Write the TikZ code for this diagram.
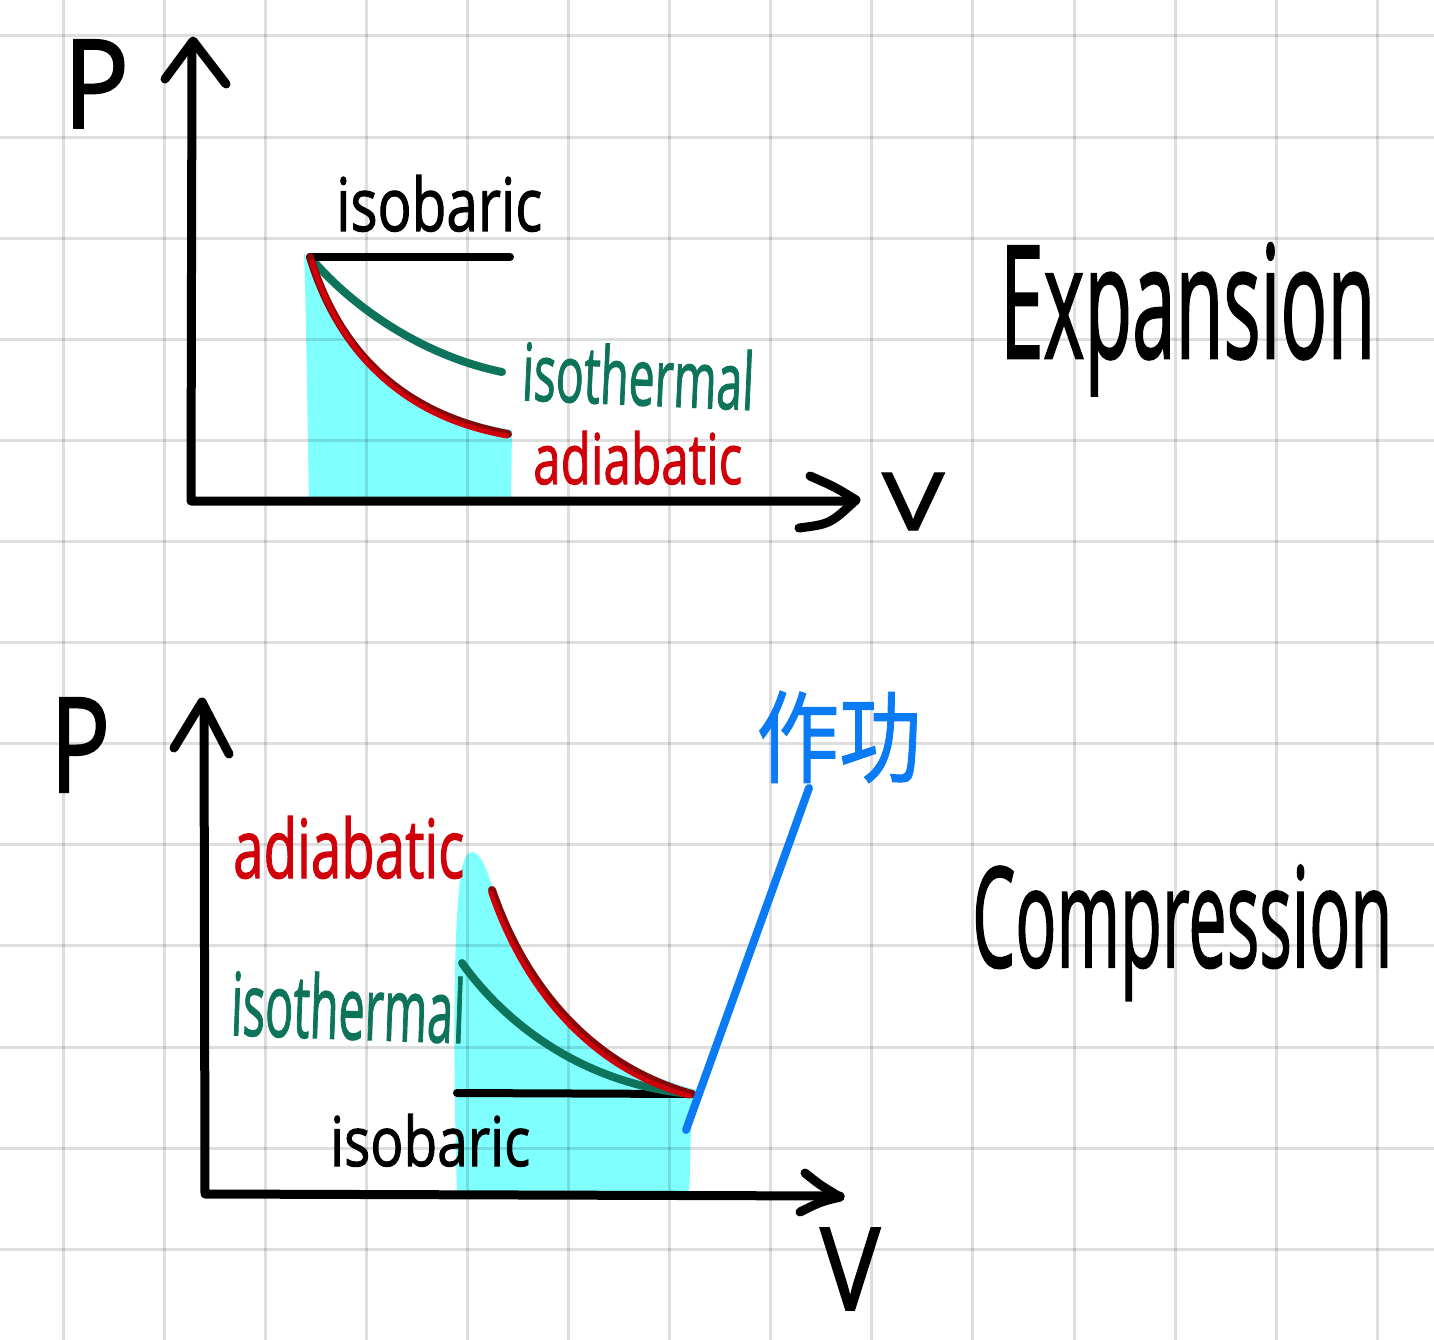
\documentclass[tikz,border=0pt]{standalone}
\usepackage{fontspec}
\usepackage{graphicx}
\setmainfont{Open Sans}
\newfontfamily\handfont{Open Sans}[FakeBold=1.6]
\newfontfamily\cjk{Noto Sans CJK SC}[FakeBold=1]
\definecolor{fillcyan}{RGB}{128,255,255}
\definecolor{isogreen}{RGB}{13,115,90}
\definecolor{adired}{RGB}{208,0,10}
\definecolor{adidark}{RGB}{135,8,8}
\definecolor{workblue}{RGB}{10,122,245}
\newcommand{\fitbox}[3]{\resizebox{#1pt}{#2pt}{#3}}
\begin{document}
\begin{tikzpicture}[x=1pt,y=-1pt,
  lbl/.style={inner sep=0pt, anchor=base west, font=\handfont},
  axisline/.style={line width=9pt, line cap=round, line join=round, draw=black},
  curveline/.style={line width=8pt, line cap=round},
  gridline/.style={line width=3pt, draw=black, opacity=0.13}]
\useasboundingbox[fill=white] (0,0) rectangle (1434,1340);

% ---------- cyan work areas ----------
\fill[fillcyan] (304,253) .. controls (306,300) and (307,400) .. (309,498) -- (511,498) -- (512,430)
  .. controls (405,412) and (338,352) .. (304,253) -- cycle;
\fill[fillcyan] (457,1191) .. controls (454,1100) and (452,950) .. (460,880)
  .. controls (463,858) and (467,852) .. (472,852)
  .. controls (480,852) and (486,868) .. (490,880)
  .. controls (527,990) and (598,1066) .. (697,1090)
  -- (691,1130) .. controls (690,1160) and (690,1180) .. (689,1191) -- cycle;

% ---------- grid ----------
\foreach \gx in {0,...,13} \draw[gridline] ({63+101.1*\gx},0) -- ({63+101.1*\gx},1340);
\foreach \gy in {0,...,12} \draw[gridline] (0,{36+101.1*\gy}) -- (1434,{36+101.1*\gy});

% ---------- top diagram (Expansion) ----------
\coordinate (O1) at (191,501);
\coordinate (Y1) at (192,44);
\coordinate (X1) at (855,501);
\draw[axisline] (Y1) -- (O1) -- (X1);
\draw[axisline] (165,79) -- (193,41) -- (226,84);
\draw[axisline] (810,476) .. controls (835,487) .. (856,500);
\draw[axisline] (799,528) .. controls (830,524) .. (856,500);

\coordinate (S1) at (310,257);
\coordinate (B1) at (510,257);
\coordinate (G1) at (502,372);
\coordinate (R1) at (508,434);
\draw[curveline, isogreen] (S1) .. controls (350,305) and (420,355) .. (G1);
\draw[curveline, black] (S1) -- (B1);
\draw[curveline, adidark] (S1) .. controls (340,355) and (405,415) .. (R1);
\draw[line width=5pt, line cap=round, adired] (312,262) .. controls (342,358) and (406,418) .. (507,436);

\node[lbl] (P1) at (63,128) {\fitbox{66}{88}{P}};
\node[lbl] (isob1) at (336,231) {\fitbox{206}{56}{isobaric}};
\node[lbl, isogreen, rotate=-2.5] (isot1) at (521,400) {\fitbox{232}{60}{isothermal}};
\node[lbl, adired] (adia1) at (533,484) {\fitbox{209}{53}{adiabatic}};
\node[lbl] (V1) at (882,530) {\fitbox{62}{57}{V}};
\node[lbl] (exp) at (1000,358) {\fitbox{375}{115}{Expansion}};

% ---------- bottom diagram (Compression) ----------
\coordinate (O2) at (205,1194);
\coordinate (Y2) at (204,706);
\coordinate (X2) at (840,1196);
\draw[axisline] (Y2) -- (O2) -- (X2);
\draw[axisline] (174,748) -- (202,702) -- (229,754);
\draw[axisline] (805,1173) .. controls (820,1185) .. (840,1197);
\draw[axisline] (800,1212) .. controls (820,1202) .. (840,1197);

\coordinate (E2) at (692,1094);
\coordinate (B2) at (457,1093);
\coordinate (G2) at (462,963);
\coordinate (R2) at (492,890);
\draw[curveline, black] (B2) -- (E2);
\draw[curveline, isogreen] (G2) .. controls (510,1030) and (590,1085) .. (E2);
\draw[curveline, adidark] (R2) .. controls (528,995) and (598,1068) .. (E2);
\draw[line width=5pt, line cap=round, adired] (491,893) .. controls (527,998) and (597,1071) .. (689,1096);

\coordinate (W1) at (686,1130);
\coordinate (W2) at (809,788);
\draw[curveline, workblue] (W1) -- (W2);

\node[lbl] (P2) at (50,792) {\fitbox{60}{94}{P}};
\node[lbl, adired] (adia2) at (233,878) {\fitbox{231}{62}{adiabatic}};
\node[lbl, isogreen, rotate=-2] (isot2) at (230,1035) {\fitbox{234}{66}{isothermal}};
\node[lbl] (isob2) at (330,1166) {\fitbox{200}{52}{isobaric}};
\node[lbl] (V2) at (820,1310) {\fitbox{60}{82}{V}};
\node[inner sep=0pt, anchor=center, workblue] (work) at (839,737) {\resizebox{165pt}{84pt}{\cjk 作功}};
\node[lbl] (comp) at (972,967) {\fitbox{420}{102}{Compression}};
\end{tikzpicture}
\end{document}
